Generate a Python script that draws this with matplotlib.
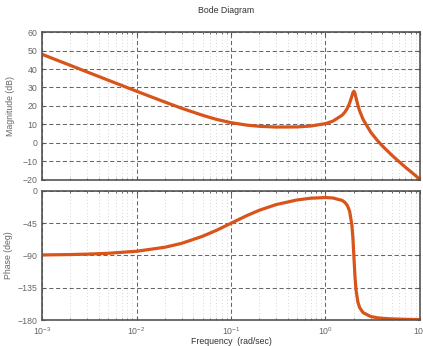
import numpy as np
import matplotlib.pyplot as plt
from matplotlib.ticker import FixedLocator, LogLocator, NullFormatter

plt.rcParams['font.family'] = ['Liberation Sans', 'DejaVu Sans']

# frequency points (rad/sec)
freq = [0.001, 0.002, 0.003, 0.005, 0.01, 0.02, 0.03, 0.05, 0.07, 0.1, 0.15, 0.2, 0.3,
	0.5, 0.7, 1.0, 1.2, 1.5, 1.6, 1.7, 1.8, 1.9, 1.95, 2.0, 2.05, 2.1, 2.2, 2.3, 2.5,
	3.0, 3.5, 4.0, 5.0, 6.0, 7.0, 10.0]

#magnitude (dB)
mag = [47.96, 41.94, 38.42, 33.99, 28.00, 22.11, 18.79, 14.97, 12.79, 10.99, 9.61, 9.02, 8.62,
	8.69, 9.18, 10.48, 11.83, 15.03, 16.63, 18.72, 21.52, 25.29, 27.20, 27.97, 26.81, 24.64, 20.47, 17.28, 12.75,
	5.96, 1.65, -1.60, -6.45, -10.10, -13.07, -19.65]

#phase (deg)
phase = [-89.43, -88.85, -88.28, -87.14, -84.29, -78.69, -73.30, -63.43, -55.21, -45.29, -34.12, -27.15, -19.31,
	-12.84, -10.41, -9.52, -10.12, -13.54, -16.11, -20.40, -28.53, -47.27, -66.08, -92.86, -119.08, -137.04, -154.95, -162.86, -169.76,
	-175.07, -176.79, -177.62, -178.42, -178.80, -179.04, -179.38]

mag_ticks = [-20, -10, 0, 10, 20, 30, 40, 50, 60]
phase_ticks = [-180, -135, -90, -45, 0]

line_col = '#D9541A'
txt_col = '#666666'
spine_col = '#555555'

fig = plt.figure(figsize=(4.23, 3.46), dpi=100)
ax1 = fig.add_axes([0.0993, 0.4798, 0.8936, 0.4277])
ax2 = fig.add_axes([0.0993, 0.0751, 0.8936, 0.3737])

def style(ax):
	ax.set_xscale('log')
	ax.set_xlim(1e-3, 10)
	ax.xaxis.set_minor_locator(LogLocator(base=10, subs=np.arange(2, 10)))
	ax.xaxis.set_minor_formatter(NullFormatter())
	ax.grid(True, which='major', linestyle=(0, (4, 2.5)), color='#666666', linewidth=0.75)
	ax.grid(True, which='minor', axis='x', linestyle=(0, (1, 3)), color='#c8c8c8', linewidth=0.6)
	for s in ax.spines.values():
		s.set_color(spine_col)
		s.set_linewidth(1.2)
	ax.tick_params(which='both', direction='in', colors=spine_col, labelcolor=txt_col,
		labelsize=6.3, length=2.5, top=True, right=True)
	ax.tick_params(which='minor', length=1.5)

ax1.plot(freq, mag, color=line_col, linewidth=2.3)
style(ax1)
ax1.set_ylim(-20, 60)
ax1.yaxis.set_major_locator(FixedLocator(mag_ticks))
ax1.set_yticklabels(['\u221220', '\u221210', '0', '10', '20', '30', '40', '50', '60'])
ax1.xaxis.set_major_formatter(NullFormatter())
ax1.set_ylabel('Magnitude (dB)', fontsize=6.3, color=txt_col, labelpad=5)

ax2.plot(freq, phase, color=line_col, linewidth=2.3)
style(ax2)
ax2.set_ylim(-180, 0)
ax2.yaxis.set_major_locator(FixedLocator(phase_ticks))
ax2.set_yticklabels(['\u2212180', '\u2212135', '\u221290', '\u221245', '0'])
ax2.set_ylabel('Phase (deg)', fontsize=6.3, color=txt_col, labelpad=3)
ax2.set_xlabel('Frequency  (rad/sec)', fontsize=6.3, color='#333333', labelpad=0.5)

fig.text(0.534, 0.971, 'Bode Diagram', fontsize=6.3, color='#333333', ha='center', va='center')

fig.savefig('out.png', dpi=100)
plt.close()
